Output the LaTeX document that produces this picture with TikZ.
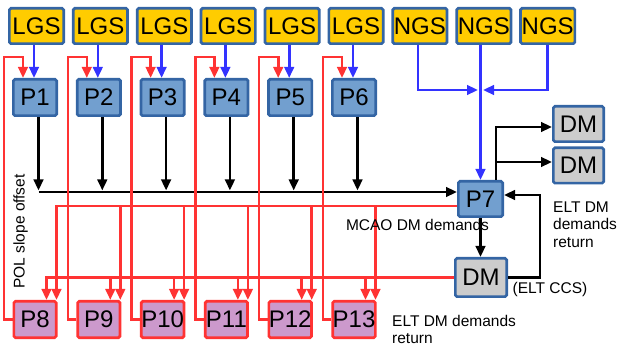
\documentclass[tikz,border=0pt]{standalone}
\usepackage{fontspec}
\setmainfont{Liberation Sans}
\usetikzlibrary{arrows.meta,calc}
\definecolor{gold}{HTML}{FFCC00}
\definecolor{bord}{HTML}{3465A4}
\definecolor{pblue}{HTML}{729FCF}
\definecolor{pinkf}{HTML}{CC99CC}
\definecolor{rline}{HTML}{FF3333}
\definecolor{bline}{HTML}{3333FF}
\definecolor{dmgray}{HTML}{CCCCCC}
\begin{document}
\begin{tikzpicture}[x=1pt,y=-1pt,
 box/.style={draw=bord, line width=2.7pt, rounded corners=1.5pt, inner sep=0pt, font=\fontsize{24}{24}\selectfont},
 lgs/.style={box, fill=gold, minimum width=54.3pt, minimum height=35.3pt},
 pbox/.style={box, fill=pblue, minimum width=43.3pt, minimum height=36.3pt},
 qbox/.style={box, draw=rline, fill=pinkf, minimum width=42.3pt, minimum height=36.3pt},
 dmbox/.style={box, fill=dmgray},
 conn/.style={line width=2.6pt, -{Triangle[length=11pt,width=9.5pt]}},
 bl/.style={conn, draw=bline},
 rd/.style={conn, draw=rline},
 bk/.style={conn, draw=black},
 lbl/.style={font=\fontsize{15.5}{17.5}\selectfont, inner sep=0pt}
]
\useasboundingbox (0,0) rectangle (621,347);

% guide stars
\foreach \i in {1,...,6} {
  \pgfmathsetmacro\lx{36.5+63.9*(\i-1)}
  \node[lgs] (L\i) at (\lx,26) {LGS};
}
\foreach \i in {1,2,3} {
  \pgfmathsetmacro\lx{36.5+63.9*(\i+5)}
  \node[lgs] (N\i) at (\lx,26) {NGS};
}
% processors
\foreach \i in {1,...,6} {
  \pgfmathsetmacro\px{35+63.8*(\i-1)}
  \pgfmathtruncatemacro\j{\i+7}
  \node[pbox] (P\i) at (\px,97.5) {P\i};
  \node[qbox] (P\j) at (\px,319.5) {P\j};
}
\node[pbox, minimum width=44.3pt, minimum height=35.3pt] (P7) at (480.5,199) {P7};
\node[dmbox, minimum width=50.3pt, minimum height=35.3pt] (DM1) at (578.5,124) {DM};
\node[dmbox, minimum width=50.3pt, minimum height=35.3pt] (DM2) at (578.5,165.5) {DM};
\node[dmbox, minimum width=51.3pt, minimum height=38.3pt] (DM3) at (481,277.5) {DM};

% coordinates
\coordinate (bus) at (0,192);
\coordinate (busend) at (0,190.5);
\coordinate (join) at (480.5,90);
\coordinate (ru) at ($(P7.west)+(0,7)$);
\coordinate (rl) at (DM3.west);
\coordinate (up) at ($(P7.north)+(15.5,0)$);
\coordinate (d1) at ($(DM1.west)+(0,3)$);
\coordinate (d2) at ($(DM2.west)+(0,-3.5)$);
\coordinate (back) at ($(P7.east)+(0,-4)$);

% black bus
\foreach \i in {1,...,6} {
  \coordinate (a\i) at ($(P\i.south)+(3.5,0)$);
}
\draw[bk] (a1 |- bus) -- (P7.west |- bus);
\foreach \i in {1,...,6} {
  \draw[bk] (a\i) -- (a\i |- busend);
}

% blue from LGS
\foreach \i in {1,...,6} {
  \coordinate (b\i) at ($(P\i.north)+(-1,0)$);
  \draw[bl] (b\i |- L\i.south) -- (b\i);
}
% NGS
\coordinate (n1) at ($(N1.south)+(-2,0)$);
\coordinate (j1) at ($(join)+(-2.5,0)$);
\coordinate (j3) at ($(join)+(2.5,0)$);
\draw[bl] (N2.south -| P7.north) -- (P7.north);
\draw[bl] (n1) |- (j1);
\draw[bl] (N3.south) |- (j3);

% P7 to DMs
\draw[bk] (up) |- (d1);
\draw[bk] (up |- d2) -- (d2);
\draw[bk] (P7.south) -- (P7.south |- DM3.north);
\draw[bk] (DM3.east) -- ++(32,0) |- (back);

% red buses to P8..P13
\foreach \i in {8,...,13} {
  \coordinate (u\i) at ($(P\i.north)+(21.5,0)$);
  \coordinate (l\i) at ($(P\i.north)+(11.5,0)$);
}
\draw[rd] (ru) -| (u8);
\foreach \i in {9,...,13} {
  \draw[rd] (u\i |- ru) -- (u\i);
}
\draw[rd] (rl) -| (l8);
\foreach \i in {9,...,13} {
  \draw[rd] (l\i |- rl) -- (l\i);
}
% POL slope offset wraps
\foreach \i in {1,...,6} {
  \pgfmathtruncatemacro\j{\i+7}
  \coordinate (w\i) at ($(P\i.north)+(-12,0)$);
  \coordinate (h\i) at ($(P\i.north)+(-12,-21)$);
  \draw[rd] (P\j.west) -- ++(-8.5,0) |- (h\i) -- (w\i);
}

% labels
\node[lbl, rotate=90] (pol) at (20.5,231.5) {POL slope offset};
\node[lbl] (mcao) at (417.5,225) {MCAO DM demands};
\node[lbl, align=left, anchor=north west] (eltr) at (553,201.5) {ELT DM\\demands\\return};
\node[lbl, anchor=base] (ccs) at (550,294) {(ELT CCS)};
\node[lbl, align=left, anchor=north west] (eltb) at (392,315) {ELT DM demands\\return};
\end{tikzpicture}
\end{document}
